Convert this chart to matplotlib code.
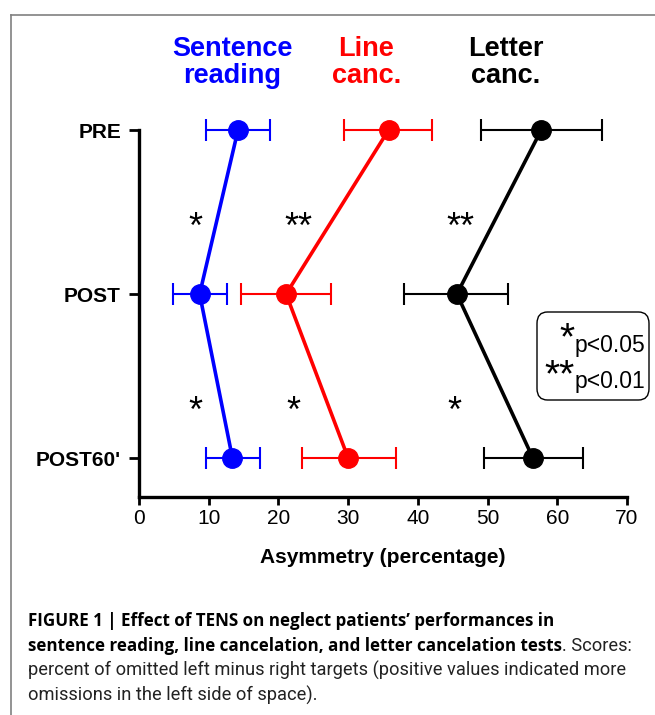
import matplotlib.pyplot as plt
from matplotlib.patches import FancyBboxPatch
from matplotlib.lines import Line2D

plt.rcParams['font.family'] = ['Liberation Sans', 'DejaVu Sans']

# data
sessions = ["PRE", "POST", "POST60'"]
sentence_mean = [14.2, 8.7, 13.4]
sentence_lo = [9.6, 4.9, 9.6]
sentence_hi = [18.8, 12.6, 17.3]
line_mean = [35.8, 21.1, 30.0]
line_lo = [29.4, 14.7, 23.4]
line_hi = [42.0, 27.5, 36.8]
letter_mean = [57.7, 45.6, 56.5]
letter_lo = [49.0, 38.0, 49.5]
letter_hi = [66.4, 52.9, 63.7]

titles = ["Sentence\nreading", "Line\ncanc.", "Letter\ncanc."]
title_x = [13.4, 32.6, 52.6]
colors = ["#0000ff", "#ff0000", "#000000"]

sig_upper_x = [8.1, 22.9, 46.1]
sig_upper = ["*", "**", "**"]
sig_lower_x = [8.1, 22.1, 45.3]
sig_lower = ["*", "*", "*"]

W, H = 655, 715
fig = plt.figure(figsize=(W / 100, H / 100), dpi=100)

# outer frame (cropped on right and bottom)
fig.add_artist(Line2D([11 / W, 1], [1 - 15 / H, 1 - 15 / H], color="#808080", lw=1.2))
fig.add_artist(Line2D([11 / W, 11 / W], [1 - 15 / H, 0], color="#808080", lw=1.2))

ax = fig.add_axes([139 / W, 1 - 497 / H, 488 / W, 367 / H])
ypos = list(range(len(sessions)))
ybot = (497 - 130) / 164

series = [(sentence_mean, sentence_lo, sentence_hi),
          (line_mean, line_lo, line_hi),
          (letter_mean, letter_lo, letter_hi)]
for (m, lo, hi), c in zip(series, colors):
    err = [[a - b for a, b in zip(m, lo)], [b - a for a, b in zip(m, hi)]]
    eb = ax.errorbar(m, ypos, xerr=err, fmt='none', ecolor=c, elinewidth=1.5,
                     capsize=8, capthick=1.5)
    for art in eb.get_children():
        art.set_clip_on(False)
    ax.plot(m, ypos, color=c, lw=2.6, marker='o', ms=14, clip_on=False, zorder=3)

for x, s in zip(sig_upper_x, sig_upper):
    ax.text(x, (238 - 130) / 164, s, ha='center', va='baseline', fontsize=26)
for x, s in zip(sig_lower_x, sig_lower):
    ax.text(x, (422 - 130) / 164, s, ha='center', va='baseline', fontsize=26)

for x, t, c in zip(title_x, titles, colors):
    ax.text(x, (83 - 130) / 164, t, ha='center', va='baseline', fontsize=19.5,
            fontweight='bold', color=c, linespacing=1.05, clip_on=False)

ax.set_xlim(0, 70)
ax.set_ylim(ybot, 0)
ax.set_xticks(range(0, 71, 10))
ax.set_yticks(ypos)
ax.set_yticklabels(sessions, fontsize=15, fontweight='bold')
ax.tick_params(axis='x', labelsize=15, length=6, width=2, pad=3)
ax.tick_params(axis='y', length=7, width=2, pad=6)
for side in ['top', 'right']:
    ax.spines[side].set_visible(False)
for side in ['left', 'bottom']:
    ax.spines[side].set_linewidth(2.4)
ax.set_xlabel("Asymmetry (percentage)", fontsize=15, fontweight='bold', labelpad=14)

# significance legend box
box = FancyBboxPatch((537 / W, 1 - 400 / H), 112 / W, 88 / H,
                     boxstyle="round,pad=0,rounding_size=0.016",
                     transform=fig.transFigure, fc='white', ec='black', lw=1.0)
fig.add_artist(box)
fig.text(575 / W, 1 - 352 / H, "p<0.05", fontsize=16.5, ha='left', va='baseline')
fig.text(575 / W, 1 - 349 / H, "*", fontsize=28, ha='right', va='baseline')
fig.text(575 / W, 1 - 388 / H, "p<0.01", fontsize=16.5, ha='left', va='baseline')
fig.text(575 / W, 1 - 386 / H, "**", fontsize=28, ha='right', va='baseline')

# caption, sizes fitted to the line widths of the original
r = fig.canvas.get_renderer()
cx = 28 / W
bold_font = ['Open Sans', 'DejaVu Sans']
reg_font = ['Roboto', 'DejaVu Sans']


def fitted(text, target_px, **kw):
    t = fig.text(cx, 0, text, fontsize=12, **kw)
    w = t.get_window_extent(renderer=r).width
    t.remove()
    return 12 * target_px / w


line1 = "FIGURE 1 | Effect of TENS on neglect patients\u2019 performances in"
line2b = "sentence reading, line cancelation, and letter cancelation tests"
line3 = "percent of omitted left minus right targets (positive values indicated more"
line4 = "omissions in the left side of space)."
bsize = fitted(line2b, 535, fontweight='bold', family=bold_font)
rsize = fitted(line3, 595, family=reg_font)

fig.text(cx, 1 - 626 / H, line1, fontsize=bsize, fontweight='bold', family=bold_font,
         va='baseline')
t2 = fig.text(cx, 1 - 651 / H, line2b, fontsize=bsize, fontweight='bold', family=bold_font,
              va='baseline')
bb = t2.get_window_extent(renderer=r)
fig.text(bb.x1 / W, 1 - 651 / H, ". Scores:", fontsize=rsize, family=reg_font,
         va='baseline', color='#222222')
fig.text(cx, 1 - 676 / H, line3, fontsize=rsize, family=reg_font, va='baseline',
         color='#222222')
fig.text(cx, 1 - 701 / H, line4, fontsize=rsize, family=reg_font, va='baseline',
         color='#222222')

fig.savefig("out.png", dpi=100)
